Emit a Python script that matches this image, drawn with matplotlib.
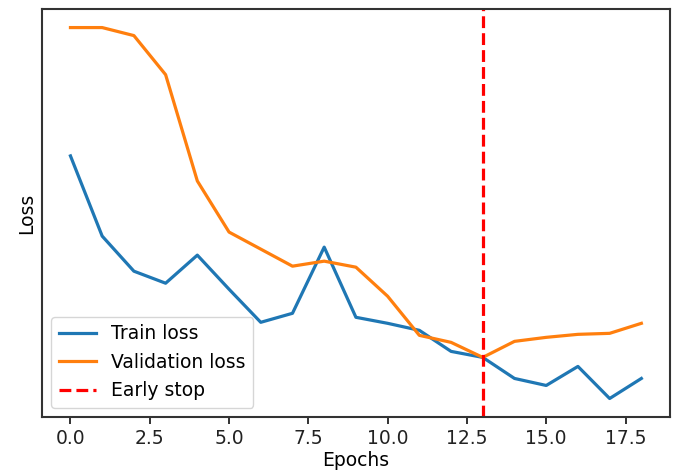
import matplotlib
matplotlib.use("Agg")
import matplotlib.pyplot as plt

epochs = list(range(19))
train_loss = [0.295, 0.215, 0.180, 0.168, 0.196, 0.162, 0.129, 0.138, 0.204, 0.134,
              0.128, 0.121, 0.100, 0.094, 0.073, 0.066, 0.085, 0.053, 0.073]
val_loss = [0.423, 0.423, 0.415, 0.376, 0.270, 0.219, 0.202, 0.185, 0.190, 0.184,
            0.155, 0.116, 0.109, 0.094, 0.110, 0.114, 0.117, 0.118, 0.128]
early_stop = 13

plt.rcParams['font.size'] = 13.5
fig, ax = plt.subplots(figsize=(6.76, 4.75), dpi=100)
fig.subplots_adjust(left=0.062, right=0.991, top=0.981, bottom=0.122)

ax.plot(epochs, train_loss, color='#1f77b4', lw=2.3, label='Train loss')
ax.plot(epochs, val_loss, color='#ff7f0e', lw=2.3, label='Validation loss')
ax.axvline(early_stop, color='red', ls='--', lw=2.3, label='Early stop')
ax.set_yticks([])
ax.set_xlabel('Epochs', labelpad=2)
ax.set_ylabel('Loss')
ax.tick_params(axis='x', length=5, width=1.3, colors='#222222')
ax.legend(loc='lower left')
for s in ax.spines.values():
    s.set_linewidth(1.5)
    s.set_color('#333333')
fig.savefig('out.png', dpi=100)
